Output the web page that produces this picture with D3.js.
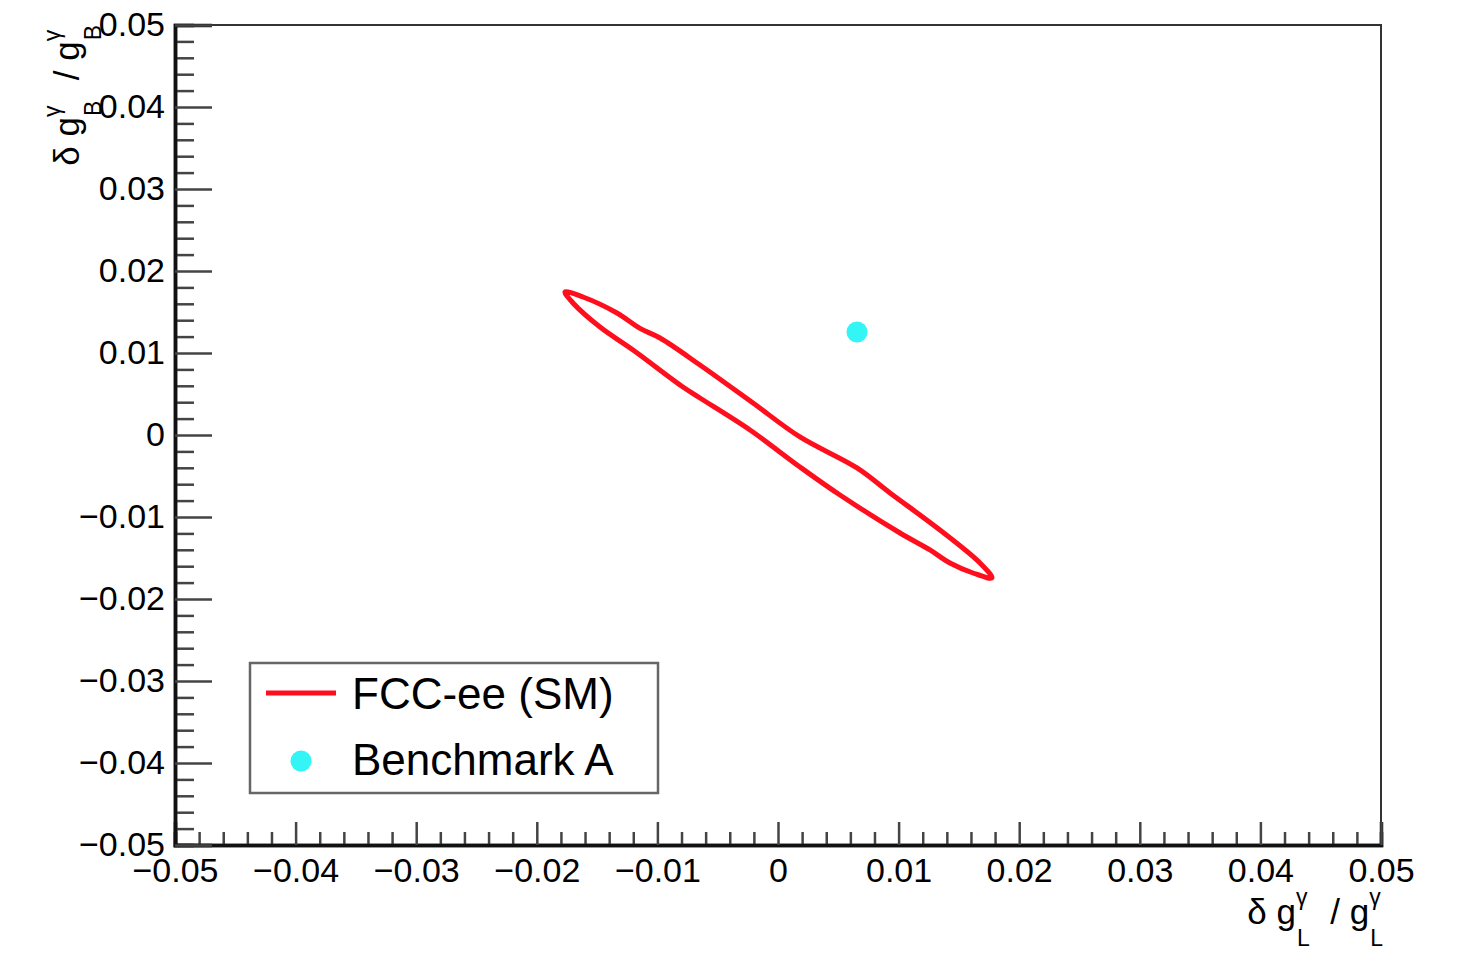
<!DOCTYPE html>
<html>
<head>
<meta charset="utf-8">
<script src="https://cdn.jsdelivr.net/npm/d3@7"></script>
<style>
  body { margin: 0; background: #fff; }
  text { font-family: "Liberation Sans", Arial, Helvetica, sans-serif; fill: #000; }
</style>
</head>
<body>
<div id="chart"></div>
<script>
// axis ranges and tick values
const xDomain = [-0.05, 0.05];
const yDomain = [-0.05, 0.05];
const majorTicks = [-0.05, -0.04, -0.03, -0.02, -0.01, 0, 0.01, 0.02, 0.03, 0.04, 0.05];
const tickLabels = ["\u22120.05", "\u22120.04", "\u22120.03", "\u22120.02", "\u22120.01", "0", "0.01", "0.02", "0.03", "0.04", "0.05"];

// FCC-ee (SM) contour (going round the closed curve)
const contourX = [-0.01766, -0.01617, -0.01335, -0.01144, -0.00978, -0.00647, -0.00207, 0.00182, 0.00655, 0.00929, 0.01343, 0.01675, 0.01774,
                  0.01617, 0.01426, 0.01260, 0.01012, 0.00514, 0.00182, -0.00232, -0.00647, -0.00788, -0.01202, -0.01476, -0.01700];
const contourY = [0.01744, 0.01683, 0.01488, 0.01300, 0.01183, 0.00854, 0.00390, -0.00024, -0.00402, -0.00707, -0.01159, -0.01561, -0.01744,
                  -0.01683, -0.01561, -0.01402, -0.01195, -0.00732, -0.00390, 0.00061, 0.00451, 0.00585, 0.01037, 0.01317, 0.01610];

// Benchmark A
const benchX = [0.00655];
const benchY = [0.01256];

const legendLabels = ["FCC-ee (SM)", "Benchmark A"];

// dimensions
const width = 1461, height = 965;
const margin = {left: 175, right: 80, top: 25, bottom: 120};
const red = "#ff0f1e", cyan = "#33f5f5";

const x = d3.scaleLinear().domain(xDomain).range([margin.left, width - margin.right]);
const y = d3.scaleLinear().domain(yDomain).range([height - margin.bottom, margin.top]);
const minorTicks = d3.range(-50, 51, 2).map(d => d / 1000).filter(d => !majorTicks.some(m => Math.abs(m - d) < 1e-9));
const fmt = d => tickLabels[majorTicks.findIndex(m => Math.abs(m - d) < 1e-9)];

const svg = d3.select("#chart").append("svg").attr("width", width).attr("height", height);

// frame
svg.append("rect")
  .attr("x", x(xDomain[0])).attr("y", y(yDomain[1]))
  .attr("width", x(xDomain[1]) - x(xDomain[0])).attr("height", y(yDomain[0]) - y(yDomain[1]))
  .attr("fill", "none").attr("stroke", "#333").attr("stroke-width", 2);

// x axis
const gx = svg.append("g").attr("transform", `translate(0,${y(yDomain[0])})`);
gx.append("g").call(d3.axisBottom(x).tickValues(minorTicks).tickSize(-13).tickFormat(""));
gx.append("g").call(d3.axisBottom(x).tickValues(majorTicks).tickSize(-23).tickPadding(13).tickFormat(fmt));

// y axis
const gy = svg.append("g").attr("transform", `translate(${x(xDomain[0])},0)`);
gy.append("g").call(d3.axisLeft(y).tickValues(minorTicks).tickSize(-19).tickFormat(""));
gy.append("g").call(d3.axisLeft(y).tickValues(majorTicks).tickSize(-37).tickPadding(10).tickFormat(fmt));

svg.selectAll(".tick line").attr("stroke", "#444").attr("stroke-width", 2.5);
svg.selectAll(".domain").attr("stroke", "#111").attr("stroke-width", 3.5);
svg.selectAll(".tick text").attr("font-size", 34).attr("font-family", "Liberation Sans, Arial, sans-serif").attr("fill", "#000");

// contour
const pts = contourX.map((d, i) => [d, contourY[i]]);
svg.append("path")
  .datum(pts)
  .attr("d", d3.line().x(d => x(d[0])).y(d => y(d[1])).curve(d3.curveCatmullRomClosed.alpha(0.5)))
  .attr("fill", "none").attr("stroke", red).attr("stroke-width", 5).attr("stroke-linejoin", "round");

// benchmark point
svg.selectAll("circle.bench")
  .data(benchX.map((d, i) => [d, benchY[i]]))
  .join("circle").attr("class", "bench")
  .attr("cx", d => x(d[0])).attr("cy", d => y(d[1])).attr("r", 10.5)
  .attr("fill", cyan);

// legend
const lg = svg.append("g").attr("transform", "translate(250,663)");
lg.append("rect").attr("width", 408).attr("height", 130)
  .attr("fill", "#fff").attr("stroke", "#666").attr("stroke-width", 2.5);
lg.append("line").attr("x1", 16).attr("x2", 86).attr("y1", 30).attr("y2", 30)
  .attr("stroke", red).attr("stroke-width", 5);
lg.append("circle").attr("cx", 51).attr("cy", 98).attr("r", 10.5).attr("fill", cyan);
lg.selectAll("text.leg").data(legendLabels).join("text").attr("class", "leg")
  .attr("x", 102).attr("y", (d, i) => 46 + i * 66)
  .attr("font-size", 44).text(d => d);

// axis titles: δ g^γ_sub / g^γ_sub, built piece by piece and right-aligned
function axisTitle(g, sub) {
  const big = 35, small = 23;
  let pos = 0;
  const pieces = [];
  function main(t) {
    const el = g.append("text").attr("x", pos).attr("y", 0).attr("font-size", big)
      .style("white-space", "pre").text(t);
    pos += el.node().getComputedTextLength();
    pieces.push(el);
  }
  function stack() {
    const a = g.append("text").attr("x", pos).attr("y", -19).attr("font-size", small).text("\u03b3");
    const b = g.append("text").attr("x", pos + 1).attr("y", 22).attr("font-size", small).text(sub);
    pos += Math.max(a.node().getComputedTextLength(), b.node().getComputedTextLength()) + 2;
    pieces.push(a, b);
  }
  main("\u03b4\u00a0g"); stack(); main("\u00a0\u00a0/\u00a0g"); stack();
  pieces.forEach(p => p.attr("x", +p.attr("x") - pos));
}
axisTitle(svg.append("g").attr("transform", `translate(${x(xDomain[1]) + 3},924)`), "L");
axisTitle(svg.append("g").attr("transform", `translate(79,${y(yDomain[1]) - 1}) rotate(-90)`), "B");
</script>
</body>
</html>
